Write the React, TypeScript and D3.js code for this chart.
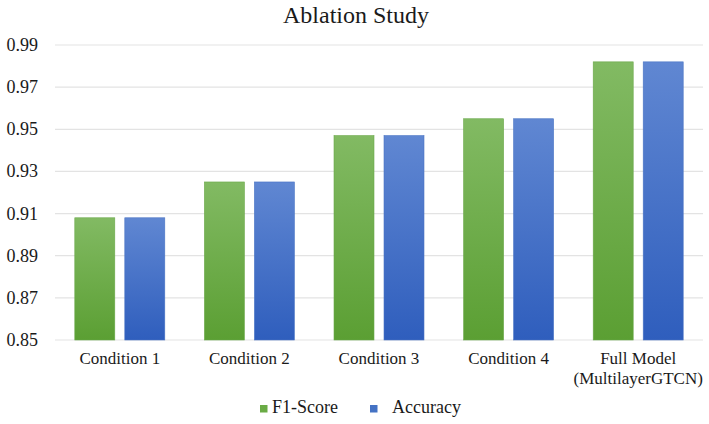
import React from 'react';
import * as d3 from 'd3';

const categories = ['Condition 1', 'Condition 2', 'Condition 3', 'Condition 4', 'Full Model\n(MultilayerGTCN)'];
const seriesNames = ['F1-Score', 'Accuracy'];
const f1Scores = [0.908, 0.925, 0.947, 0.955, 0.982];
const accuracies = [0.908, 0.925, 0.947, 0.955, 0.982];
const yTicks = [0.85, 0.87, 0.89, 0.91, 0.93, 0.95, 0.97, 0.99];

const W = 709;
const H = 424;
const FONT = "'Liberation Serif', 'DejaVu Serif', serif";

const App: React.FC = () => {
  const x = d3.scaleBand<string>().domain(categories).range([55, 703]).padding(0);
  const inner = d3.scaleBand<string>()
    .domain(seriesNames)
    .range([19.8, x.bandwidth() - 19.8])
    .paddingInner(0.2);
  const y = d3.scaleLinear().domain([0.85, 0.99]).range([340, 45]);

  const rows = categories.map((c, i) => ({ cat: c, values: [f1Scores[i], accuracies[i]] }));
  const fills = ['url(#gGreen)', 'url(#gBlue)'];
  const strokes = ['#6aa84a', '#4a74c4'];
  const legendColors = ['#6aab45', '#4472c4'];

  return (
    <svg width={W} height={H} style={{ position: 'absolute', left: 0, top: 0, background: '#fff' }}>
      <defs>
        <linearGradient id="gGreen" x1="0" y1="0" x2="0" y2="1">
          <stop offset="0%" stopColor="#82ba63" />
          <stop offset="100%" stopColor="#5b9f33" />
        </linearGradient>
        <linearGradient id="gBlue" x1="0" y1="0" x2="0" y2="1">
          <stop offset="0%" stopColor="#6087d2" />
          <stop offset="100%" stopColor="#2f5ebd" />
        </linearGradient>
      </defs>

      <g fontFamily={FONT} fill="#1a1a1a">
        <text x={356} y={23} textAnchor="middle" fontSize={24}>
          Ablation Study
        </text>

        {yTicks.map(t => (
          <g key={t}>
            <line x1={55} x2={703} y1={y(t)} y2={y(t)} stroke="#e3e3e3" strokeWidth={1.2} />
            <text x={38} y={y(t) + 6} textAnchor="end" fontSize={18}>
              {t.toFixed(2)}
            </text>
          </g>
        ))}

        {rows.map(r => (
          <g key={r.cat} transform={`translate(${x(r.cat)},0)`}>
            {r.values.map((v, j) => (
              <rect
                key={j}
                x={inner(seriesNames[j])}
                y={y(v)}
                width={inner.bandwidth()}
                height={y(0.85) - y(v)}
                fill={fills[j]}
                stroke={strokes[j]}
                strokeWidth={0.6}
              />
            ))}
            <text x={x.bandwidth() / 2} y={364} textAnchor="middle" fontSize={17}>
              {r.cat.split('\n').map((line, k) => (
                <tspan key={k} x={x.bandwidth() / 2} dy={k === 0 ? 0 : 20}>{line}</tspan>
              ))}
            </text>
          </g>
        ))}

        {/* legend */}
        <g fontSize={18}>
          <rect x={260} y={405} width={7.5} height={7.5} fill={legendColors[0]} />
          <text x={272} y={413}>{seriesNames[0]}</text>
          <rect x={370} y={405} width={7.5} height={7.5} fill={legendColors[1]} />
          <text x={392} y={413}>{seriesNames[1]}</text>
        </g>
      </g>
    </svg>
  );
};

export default App;
